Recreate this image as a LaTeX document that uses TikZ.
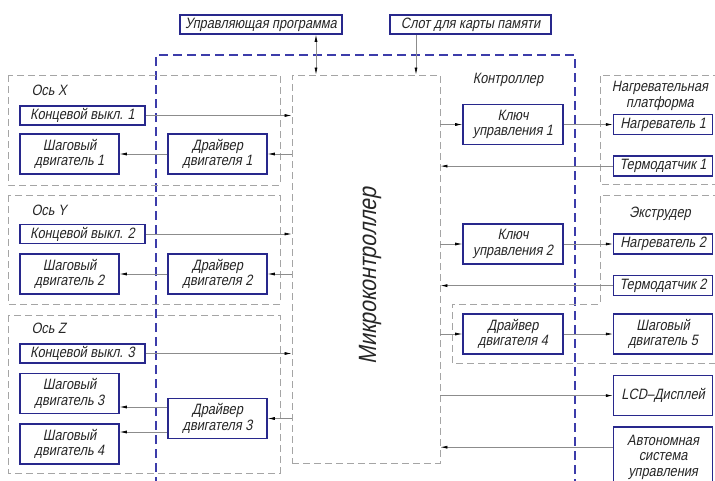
\documentclass[tikz,border=0pt]{standalone}
\usepackage{fontspec}
\usepackage{tikz}
\usetikzlibrary{arrows.meta, positioning}
\newfontfamily\gostfont[FakeStretch=0.85, FakeSlant=0.2]{Liberation Sans}
\definecolor{boxblue}{RGB}{40,40,140}
\definecolor{ctrlblue}{RGB}{60,60,170}
\definecolor{grpgray}{RGB}{165,165,165}

\begin{document}
\begin{tikzpicture}[x=1pt, y=-1pt,
    >={Latex[length=7pt, width=3pt, color=black]},
    unit/.style={draw=boxblue, line width=1.6pt, fill=white, inner sep=2pt, align=center, text=black!85, font=\gostfont\fontsize{15}{15.5}\selectfont},
    lbl/.style={text=black!85, align=center, font=\gostfont\fontsize{15}{15.5}\selectfont},
    grp/.style={draw=grpgray, line width=0.9pt, dash pattern=on 7pt off 4pt},
    ctrl/.style={draw=ctrlblue, line width=2.2pt, dash pattern=on 9pt off 5pt},
    link/.style={draw=black!45, line width=0.6pt, ->}]
    \path[use as bounding box, clip] (0,0) rectangle (715,480);

    \node (prog) [unit, minimum width=162pt, minimum height=19pt] at (261,24.5) {Управляющая программа};
    \node (slot) [unit, minimum width=161pt, minimum height=19pt] at (470.5,24.5) {Слот для карты памяти};

    \draw[ctrl] (156,500) |- (575,55) -- (575,500);
    \node (ctrllbl) [lbl] at (508,80) {Контроллер};

    \node (mc) [grp, minimum width=148pt, minimum height=388pt] at (366,269) {};
    \node (mclbl) [lbl, rotate=90, font=\gostfont\fontsize{25}{25}\selectfont] at (370,276) {Микроконтроллер};

    \coordinate (pg) at ([xshift=55pt]prog.south);
    \coordinate (sl) at ([xshift=-54.5pt]slot.south);
    \draw[link, <->] (pg) -- (pg |- mc.north);
    \draw[link] (sl) -- (sl |- mc.north);

    \draw[grp] (8,75) rectangle (280,185);
    \node (lblx) [lbl, anchor=west] at (28,90) {Ось X};
    \node (sw1) [unit, minimum width=125pt, minimum height=19pt] at (82.5,115.5) {Концевой выкл. 1};
    \node (mot1) [unit, minimum width=99pt, minimum height=40pt] at (69.5,154) {Шаговый\\двигатель 1};
    \node (drv1) [unit, minimum width=99pt, minimum height=40pt] at (217.5,154) {Драйвер\\двигателя 1};
    \draw[link] (sw1.east) -- (sw1.east -| mc.west);
    \draw[link] (drv1.east -| mc.west) -- (drv1.east);
    \draw[link] (drv1.west) -- (mot1.east);

    \draw[grp] (8,195) rectangle (280,304);
    \node (lbly) [lbl, anchor=west] at (28,210) {Ось Y};
    \node (sw2) [unit, minimum width=125pt, minimum height=19pt] at (82.5,234) {Концевой выкл. 2};
    \node (mot2) [unit, minimum width=99pt, minimum height=40pt] at (69.5,274) {Шаговый\\двигатель 2};
    \node (drv2) [unit, minimum width=99pt, minimum height=40pt] at (217.5,274) {Драйвер\\двигателя 2};
    \draw[link] (sw2.east) -- (sw2.east -| mc.west);
    \draw[link] (drv2.east -| mc.west) -- (drv2.east);
    \draw[link] (drv2.west) -- (mot2.east);

    \draw[grp] (8,315) rectangle (280,473);
    \node (lblz) [lbl, anchor=west] at (28,328) {Ось Z};
    \node (sw3) [unit, minimum width=125pt, minimum height=19pt] at (82.5,353.5) {Концевой выкл. 3};
    \node (mot3) [unit, minimum width=99pt, minimum height=40pt] at (69.5,393.5) {Шаговый\\двигатель 3};
    \node (mot4) [unit, minimum width=99pt, minimum height=40pt] at (69.5,444) {Шаговый\\двигатель 4};
    \node (drv3) [unit, minimum width=99pt, minimum height=40pt] at (217.5,418.5) {Драйвер\\двигателя 3};
    \coordinate (d3up) at ([yshift=11.5pt]drv3.west);
    \coordinate (d3dn) at ([yshift=-13.5pt]drv3.west);
    \draw[link] (sw3.east) -- (sw3.east -| mc.west);
    \draw[link] (drv3.east -| mc.west) -- (drv3.east);
    \draw[link] (d3up) -- (d3up -| mot3.east);
    \draw[link] (d3dn) -- (d3dn -| mot4.east);

    \draw[grp] (720,75) -| (600,184) -- (720,184);
    \node (platlbl) [lbl] at (660,96) {Нагревательная\\платформа};
    \node (key1) [unit, minimum width=100pt, minimum height=40pt] at (513,124.5) {Ключ\\управления 1};
    \node (heat1) [unit, minimum width=99pt, minimum height=20pt, right=49pt of key1] {Нагреватель 1};
    \node (ts1) [unit, minimum width=99pt, minimum height=20pt, below=20pt of heat1] {Термодатчик 1};
    \draw[link] (key1.west -| mc.east) -- (key1.west);
    \draw[link] (key1.east) -- (heat1.west);
    \draw[link] (ts1.west) -- (ts1.west -| mc.east);

    \draw[grp] (720,195) -| (600,304) -| (452,363) -- (720,363);
    \node (extlbl) [lbl] at (660,214) {Экструдер};
    \node (key2) [unit, minimum width=100pt, minimum height=40pt] at (513,244) {Ключ\\управления 2};
    \node (heat2) [unit, minimum width=99pt, minimum height=20pt, right=49pt of key2] {Нагреватель 2};
    \node (ts2) [unit, minimum width=99pt, minimum height=20pt, below=20pt of heat2] {Термодатчик 2};
    \node (drv4) [unit, minimum width=100pt, minimum height=40pt] at (513,334) {Драйвер\\двигателя 4};
    \node (mot5) [unit, minimum width=99pt, minimum height=40pt, right=49pt of drv4] {Шаговый\\двигатель 5};
    \draw[link] (key2.west -| mc.east) -- (key2.west);
    \draw[link] (key2.east) -- (heat2.west);
    \draw[link] (ts2.west) -- (ts2.west -| mc.east);
    \draw[link] (drv4.west -| mc.east) -- (drv4.west);
    \draw[link] (drv4.east) -- (mot5.west);

    \node (lcd) [unit, minimum width=99pt, minimum height=40pt, below=20pt of mot5] {LCD–Дисплей};
    \node (autosys) [unit, minimum width=99pt, minimum height=60pt, below=10pt of lcd] {Автономная\\система\\управления};
    \coordinate (as) at ([yshift=10pt]autosys.west);
    \draw[link] (lcd.west -| mc.east) -- (lcd.west);
    \draw[link] (as) -- (as -| mc.east);
\end{tikzpicture}
\end{document}
